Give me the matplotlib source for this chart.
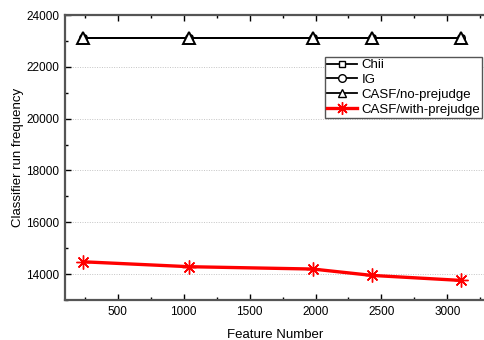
import matplotlib
matplotlib.use("Agg")
import matplotlib.pyplot as plt
from matplotlib.ticker import MultipleLocator

plt.rcParams['font.family'] = ['Liberation Sans', 'DejaVu Sans']

# data
feature_num = [236, 1042, 1979, 2426, 3105]
chii = [23130, 23130, 23130, 23130, 23130]
ig = [23130, 23130, 23130, 23130, 23130]
casf_no = [23130, 23130, 23130, 23130, 23130]
casf_with = [14475, 14285, 14195, 13950, 13755]

fig = plt.figure(figsize=(4.84, 3.4), dpi=100)
ax = fig.add_axes([65/484, 40/340, 1 - 65/484 + 0.002, 285/340])

ax.plot(feature_num, chii, color='black', lw=1.3, marker='s', ms=4.5,
        mfc='white', mec='black', mew=1.0, label='Chii')
ax.plot(feature_num, ig, color='black', lw=1.3, marker='o', ms=5.5,
        mfc='white', mec='black', mew=1.0, label='IG')
ax.plot(feature_num, casf_no, color='black', lw=1.3, marker='^', ms=8,
        mfc='white', mec='black', mew=1.4, label='CASF/no-prejudge')
ax.plot(feature_num, casf_with, color='red', lw=2.4, marker=(8, 2, 0), ms=10,
        mec='red', mew=1.0, label='CASF/with-prejudge')

ax.set_xlim(100, 3285)
ax.set_ylim(13000, 24000)
ax.xaxis.set_major_locator(MultipleLocator(500))
ax.xaxis.set_minor_locator(MultipleLocator(250))
ax.yaxis.set_major_locator(MultipleLocator(2000))
ax.yaxis.set_minor_locator(MultipleLocator(1000))
ax.set_xticks([500, 1000, 1500, 2000, 2500, 3000])

ax.grid(axis='y', which='major', color='#c4c4c4', ls=(0, (1, 1.5)), lw=0.7)
ax.set_axisbelow(True)

ax.tick_params(which='both', direction='in', top=True, right=False,
               labelsize=8.5, color='black', pad=4)
ax.tick_params(which='major', length=4, width=1)
ax.tick_params(which='minor', length=2.5, width=1)

for side in ['left', 'bottom', 'top']:
    ax.spines[side].set_color('#555555')
    ax.spines[side].set_linewidth(1.6)
ax.spines['right'].set_visible(False)

ax.set_xlabel('Feature Number', fontsize=9.5, labelpad=8)
ax.set_ylabel('Classifier run frequency', fontsize=9.5, labelpad=2)

leg = ax.legend(loc='upper left', bbox_to_anchor=(325/484, 1 - 57/340),
                bbox_transform=fig.transFigure, borderaxespad=0,
                fontsize=9.5, fancybox=False, framealpha=1, edgecolor='#555555',
                handlelength=2.3, handletextpad=0.3, labelspacing=0.2,
                borderpad=0.15)
leg.get_frame().set_linewidth(1.0)
# smaller markers inside the legend, as in the reference
for h, s in zip(leg.legend_handles, [4.5, 5.5, 5.5, 9]):
    h.set_markersize(s)
    h.set_markeredgewidth(1.0)

fig.savefig('out.png', dpi=100)
